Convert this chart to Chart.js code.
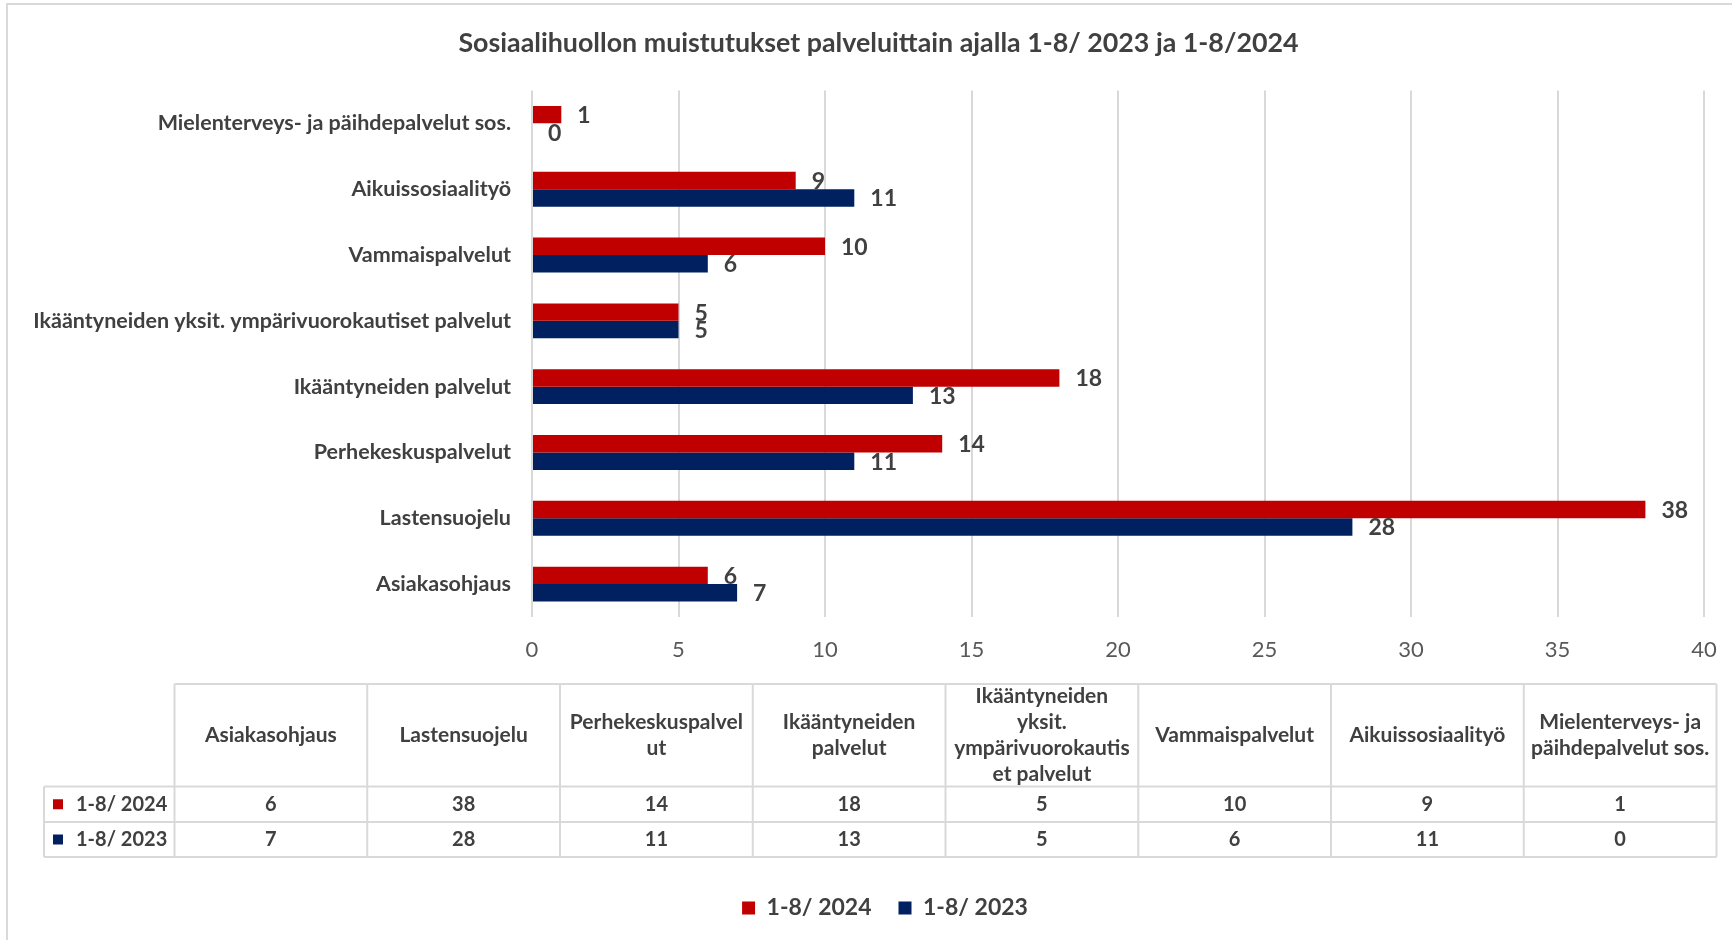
<!DOCTYPE html>
<html>
<head>
<meta charset="utf-8">
<script src="https://cdn.jsdelivr.net/npm/chart.js@4.4.1/dist/chart.umd.min.js"></script>
<style>
  html, body { margin: 0; padding: 0; background: #fff; overflow: hidden; }
  #frame { position: absolute; left: 6px; top: 3px; width: 1800px; height: 1000px; border: 2px solid #d9d9d9; box-sizing: border-box; }
  #wrap { position: absolute; left: 0; top: 0; width: 1732px; height: 940px; }
</style>
</head>
<body>
<div id="frame"></div>
<div id="wrap"><canvas id="chart"></canvas></div>
<script>
const title = "Sosiaalihuollon muistutukset palveluittain ajalla 1-8/ 2023 ja 1-8/2024";
const categories = [
    "Asiakasohjaus",
    "Lastensuojelu",
    "Perhekeskuspalvelut",
    "Ikääntyneiden palvelut",
    "Ikääntyneiden yksit. ympärivuorokautiset palvelut",
    "Vammaispalvelut",
    "Aikuissosiaalityö",
    "Mielenterveys- ja päihdepalvelut sos.",
];
// column headers of the data table, wrapped the same way as in the original
const tableHeaders = [
    ["Asiakasohjaus"],
    ["Lastensuojelu"],
    ["Perhekeskuspalvel", "ut"],
    ["Ikääntyneiden", "palvelut"],
    ["Ikääntyneiden", "yksit.", "ympärivuorokautis", "et palvelut"],
    ["Vammaispalvelut"],
    ["Aikuissosiaalityö"],
    ["Mielenterveys- ja", "päihdepalvelut sos."],
];
const seriesNames = ["1-8/ 2024", "1-8/ 2023"];
const values2024 = [6, 38, 14, 18, 5, 10, 9, 1];
const values2023 = [7, 28, 11, 13, 5, 6, 11, 0];
const xMin = 0;
const xMax = 40;
const xStep = 5;

const RED = "#c00000";
const NAVY = "#002060";
const TEXT = "#404040";
const GRID = "#d9d9d9";
const FONT = "Lato, 'Open Sans', sans-serif";

Chart.defaults.font.family = FONT;
Chart.defaults.color = TEXT;

// value labels right of each bar
const barLabels = {
    id: "barLabels",
    afterDatasetsDraw(chart) {
        const ctx = chart.ctx;
        ctx.save();
        ctx.font = "bold 23px " + FONT;
        ctx.fillStyle = TEXT;
        ctx.textAlign = "left";
        ctx.textBaseline = "middle";
        chart.data.datasets.forEach((ds, i) => {
            chart.getDatasetMeta(i).data.forEach((bar, j) => {
                ctx.fillText(String(ds.data[j]), bar.x + 16, bar.y + 1);
            });
        });
        ctx.restore();
    },
};

// title and legend are centred over the card, not over the whole canvas
const centerBlocks = {
    id: "centerBlocks",
    afterLayout(chart) {
        if (chart.titleBlock) chart.titleBlock.left = 53;
        if (chart.legend) chart.legend.left = 66;
    },
};

// Excel style data table under the axis
const dataTable = {
    id: "dataTable",
    afterDraw(chart) {
        const ctx = chart.ctx;
        const left = 174.5, right = 1716.5, headLeft = 44;
        const colW = (right - left) / categories.length;
        const rows = [684, 786.5, 822, 857];
        ctx.save();
        ctx.strokeStyle = GRID;
        ctx.lineWidth = 2;
        ctx.beginPath();
        ctx.moveTo(left, rows[0]); ctx.lineTo(right, rows[0]);
        for (let r = 1; r < rows.length; r++) {
            ctx.moveTo(headLeft, rows[r]); ctx.lineTo(right, rows[r]);
        }
        ctx.moveTo(headLeft, rows[1]); ctx.lineTo(headLeft, rows[3]);
        for (let c = 0; c <= categories.length; c++) {
            const x = left + c * colW;
            ctx.moveTo(x, rows[0]); ctx.lineTo(x, rows[3]);
        }
        ctx.stroke();

        ctx.fillStyle = TEXT;
        ctx.font = "bold 21px " + FONT;
        ctx.textAlign = "center";
        ctx.textBaseline = "middle";
        const headMid = (rows[0] + rows[1]) / 2;
        tableHeaders.forEach((lines, c) => {
            const cx = left + (c + 0.5) * colW;
            const lh = 25.7;
            lines.forEach((ln, k) => {
                ctx.fillText(ln, cx, headMid + (k - (lines.length - 1) / 2) * lh);
            });
        });

        ctx.font = "bold 20px " + FONT;
        const series = [values2024, values2023];
        const colors = [RED, NAVY];
        series.forEach((vals, r) => {
            const cy = (rows[r + 1] + rows[r + 2]) / 2;
            ctx.fillStyle = colors[r];
            ctx.fillRect(53, cy - 5, 10, 10);
            ctx.fillStyle = TEXT;
            ctx.textAlign = "left";
            ctx.fillText(seriesNames[r], 76, cy);
            ctx.textAlign = "center";
            vals.forEach((v, c) => {
                ctx.fillText(String(v), left + (c + 0.5) * colW, cy);
            });
        });
        ctx.restore();
    },
};

new Chart(document.getElementById("chart"), {
    type: "bar",
    data: {
        labels: categories,
        datasets: [
            { label: seriesNames[0], data: values2024, backgroundColor: RED },
            { label: seriesNames[1], data: values2023, backgroundColor: NAVY },
        ],
    },
    options: {
        indexAxis: "y",
        responsive: true,
        maintainAspectRatio: false,
        animation: false,
        categoryPercentage: 0.53,
        barPercentage: 1.0,
        layout: { padding: { left: 20, right: 28, top: 0, bottom: 10.5 } },
        plugins: {
            title: {
                display: true,
                text: title,
                color: TEXT,
                font: { size: 26.8, weight: "bold" },
                padding: { top: 26.9, bottom: 31.4 },
            },
            legend: {
                position: "bottom",
                labels: {
                    boxWidth: 13,
                    boxHeight: 13,
                    padding: 27,
                    color: TEXT,
                    font: { size: 23, weight: "bold" },
                },
            },
            tooltip: { enabled: false },
        },
        scales: {
            x: {
                min: xMin,
                max: xMax,
                ticks: { stepSize: xStep, color: "#595959", font: { size: 22 }, padding: 20 },
                grid: { color: GRID, lineWidth: 2, drawTicks: false },
                border: { display: false },
                afterFit(scale) {
                    scale.height = 252.5;
                    scale.paddingLeft = 0;
                    scale.paddingRight = 0;
                },
            },
            y: {
                reverse: true,
                ticks: { color: TEXT, font: { size: 21.5, weight: "bold" }, padding: 13 },
                grid: { display: false },
                border: { display: false },
                afterFit(scale) { scale.width = 532 - 20; },
            },
        },
    },
    plugins: [barLabels, centerBlocks, dataTable],
});
</script>
</body>
</html>
